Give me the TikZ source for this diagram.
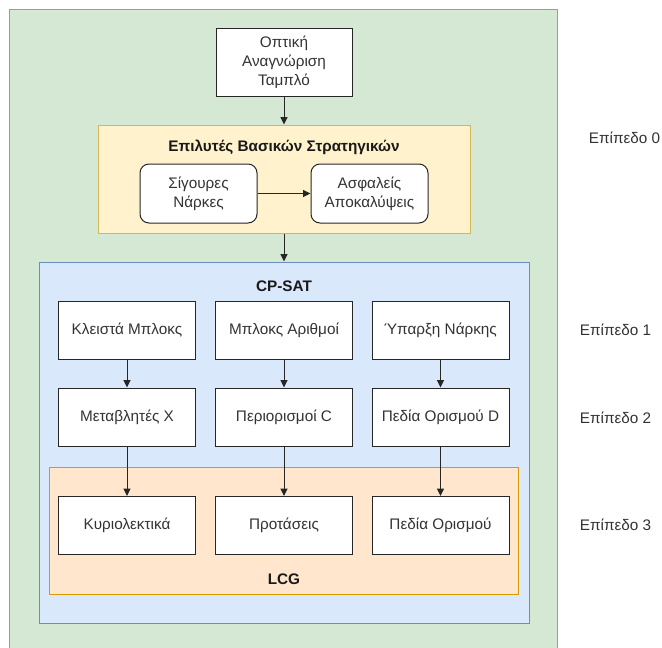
\documentclass[tikz,border=0pt]{standalone}
\usepackage{fontspec}
\setmainfont{Liberation Sans}
\usetikzlibrary{arrows.meta}
\definecolor{gfill}{HTML}{D5E8D4}
\definecolor{gline}{HTML}{82B366}
\definecolor{yfill}{HTML}{FFF2CC}
\definecolor{yline}{HTML}{D6B656}
\definecolor{bfill}{HTML}{DAE8FC}
\definecolor{bline}{HTML}{6C8EBF}
\definecolor{ofill}{HTML}{FFE6CC}
\definecolor{oline}{HTML}{D79B00}
\definecolor{txt}{HTML}{333333}
\tikzset{
  x=1pt, y=-1pt,
  every node/.style={font=\fontsize{15.3}{19}\selectfont, text=txt},
  box/.style={draw=black!85, line width=1pt, fill=white, minimum width=137pt, minimum height=58pt, align=center, inner sep=0pt},
  rbox/.style={box, rounded corners=9pt, minimum width=117pt, minimum height=59pt},
  container/.style={line width=1pt, inner sep=0pt},
  ttl/.style={font=\fontsize{15.3}{19}\selectfont\bfseries, text=black!90},
  lvl/.style={font=\fontsize{15.3}{19}\selectfont, text=txt},
  arr/.style={draw=black!85, line width=1pt, -{Triangle[length=7.5pt,width=7pt]}}
}
\begin{document}
\begin{tikzpicture}
\useasboundingbox (0,0) rectangle (662,648);
\fill[white] (0,0) rectangle (662,648);
% outer green
\draw[fill=gfill, draw=gline, line width=1pt] (9.5,9.5) -- (557.5,9.5) -- (557.5,652) -- (9.5,652) -- cycle;
% containers
\node[container, draw=yline, fill=yfill, minimum width=372pt, minimum height=108pt] (yellow) at (284,179) {};
\node[container, draw=bline, fill=bfill, minimum width=490pt, minimum height=361pt] (blue) at (284,442.5) {};
\node[container, draw=oline, fill=ofill, minimum width=469pt, minimum height=127pt] (orange) at (283.5,530.5) {};
% titles
\node[ttl] (t1) at (284,147) {Επιλυτές Βασικών Στρατηγικών};
\node[ttl] (t2) at (284,286) {CP-SAT};
\node[ttl] (t3) at (284,579) {LCG};
% top box
\node[box, minimum width=136pt, minimum height=68pt] (ocr) at (284,62) {Οπτική\\Αναγνώριση\\Ταμπλό};
% rounded boxes
\node[rbox] (sure) at (198.5,193.5) {Σίγουρες\\Νάρκες};
\node[rbox] (safe) at (369.5,193.5) {Ασφαλείς\\Αποκαλύψεις};
% grid
\node[box] (a1) at (127,330) {Κλειστά Μπλοκς};
\node[box] (b1) at (284,330) {Μπλοκς Αριθμοί};
\node[box] (c1) at (440.5,330) {Ύπαρξη Νάρκης};
\node[box] (a2) at (127,417) {Μεταβλητές X};
\node[box] (b2) at (284,417) {Περιορισμοί C};
\node[box] (c2) at (440.5,417) {Πεδία Ορισμού D};
\node[box] (a3) at (127,525.5) {Κυριολεκτικά};
\node[box] (b3) at (284,525.5) {Προτάσεις};
\node[box] (c3) at (440.5,525.5) {Πεδία Ορισμού};
% level labels
\node[lvl] (l0) at (624.5,138) {Επίπεδο 0};
\node[lvl] (l1) at (615.5,330) {Επίπεδο 1};
\node[lvl] (l2) at (615.5,418) {Επίπεδο 2};
\node[lvl] (l3) at (615.5,525) {Επίπεδο 3};
% arrows
\draw[arr] (ocr) -- (yellow);
\draw[arr] (sure) -- (safe);
\draw[arr] (yellow) -- (blue);
\draw[arr] (a1) -- (a2);
\draw[arr] (b1) -- (b2);
\draw[arr] (c1) -- (c2);
\draw[arr] (a2) -- (a3);
\draw[arr] (b2) -- (b3);
\draw[arr] (c2) -- (c3);
\end{tikzpicture}
\end{document}
